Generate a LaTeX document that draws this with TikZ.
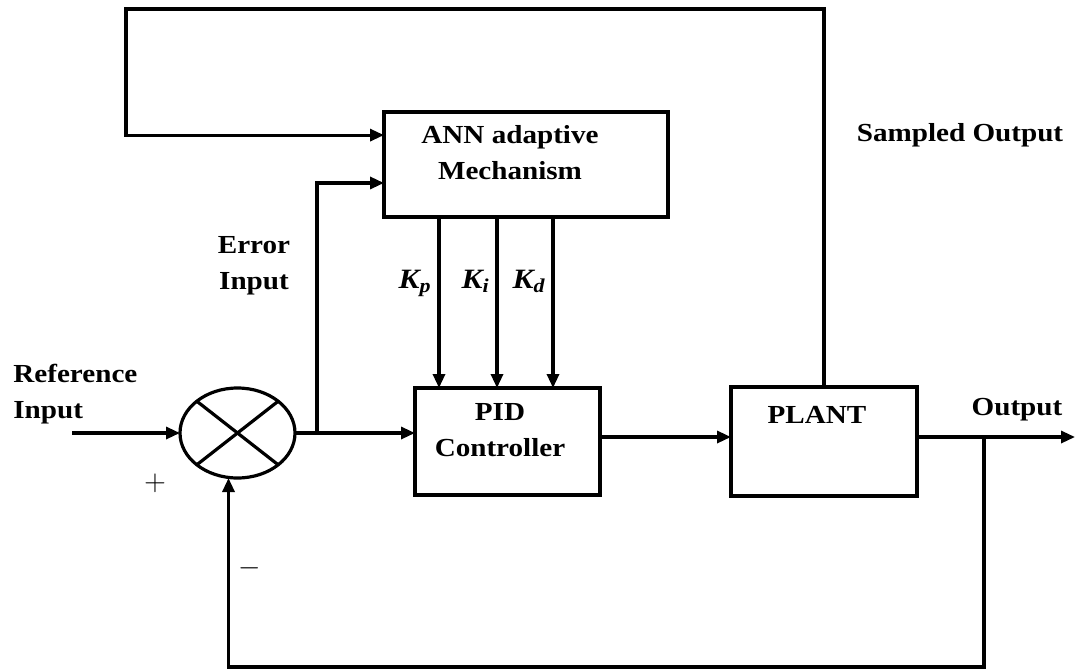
\documentclass[tikz,border=0pt]{standalone}
\usepackage{fontspec}
\setmainfont{Liberation Serif}[FakeStretch=1.12]
\usepackage{amsmath}
\usetikzlibrary{shapes.geometric, arrows.meta, positioning, calc}

\begin{document}
\begin{tikzpicture}[
  x=0.5pt, y=-0.5pt,
  blk/.style={draw, line width=1.6pt, inner sep=0pt, outer sep=0pt},
  lbl/.style={font=\fontsize{13}{18}\selectfont\bfseries, align=center, inner sep=0pt},
  gain/.style={font=\fontsize{14}{16}\selectfont, inner sep=0pt},
  arr/.style={-{Triangle[length=7pt, width=6pt]}, line width=1.6pt},
  wire/.style={line width=1.6pt}
]
  \useasboundingbox (0,0) rectangle (1075,670);

  \node[blk, ellipse, minimum width=57.5pt, minimum height=45pt] (sum) at (237.5,433) {};
  \node[blk, minimum width=142pt, minimum height=52.5pt] (ann) at (526,164.5) {};
  \node[blk, minimum width=92.5pt, minimum height=53.5pt] (pid) at (507.5,441.5) {};
  \node[blk, minimum width=93pt, minimum height=54.5pt] (plant) at (824,441.5) {};

  \node[lbl, anchor=north west, align=left] (refTxt) at (13,364) {Reference\\Input};
  \node[lbl, anchor=north] (errTxt) at (254,236) {Error\\Input};
  \node[lbl, anchor=north] (annTxt) at (510,125) {ANN adaptive\\Mechanism};
  \node[lbl, anchor=north] (pidTxt) at (500,403) {PID\\Controller};
  \node[lbl, anchor=north] (plantTxt) at (817,406) {PLANT};
  \node[lbl, anchor=north] (outTxt) at (1017,398) {Output};
  \node[lbl, anchor=north] (sampTxt) at (960,123) {Sampled Output};
  \node[gain] (plus) at (155,483) {$+$};
  \node[gain] (minus) at (250,568) {$-$};

  \coordinate (refIn) at (72,433);
  \coordinate (errSplit) at (317,433);
  \coordinate (topLeft) at (126,9);
  \coordinate (outEnd) at (1075,437);
  \coordinate (fbSplit) at (984,437);
  \coordinate (fbBottom) at (984,667);
  \coordinate (kp) at (439,288);
  \coordinate (ki) at (497,288);
  \coordinate (kd) at (553,288);

  % summing junction
  \draw[arr] (refIn) -- (sum.west);
  \draw[wire] (sum.142) -- (sum.322);
  \draw[wire] (sum.38) -- (sum.218);
  \draw[arr] (sum.east) -- (sum -| pid.west);

  % inputs of the ANN block
  \draw[arr] (errSplit) |- ($(ann.south west)!0.324!(ann.north west)$);
  \draw[arr] (plant.north) |- (topLeft) |- ($(ann.south west)!0.78!(ann.north west)$);

  % gains
  \foreach \k/\s in {kp/p, ki/i, kd/d} {
    \draw[arr] (ann.south -| \k) -- (pid.north -| \k);
    \node[gain, anchor=base east] at ([xshift=-3.5pt]\k)
      {$\text{\bfseries\itshape K}_{\text{\bfseries\itshape \s}}$};
  }

  \draw[arr] (pid.east |- outEnd) -- (plant.west |- outEnd);
  \draw[arr] (plant.east |- outEnd) -- (outEnd);
  \draw[arr] (fbSplit) -- (fbBottom) -| ([xshift=-4.5pt]sum.south);
\end{tikzpicture}
\end{document}
